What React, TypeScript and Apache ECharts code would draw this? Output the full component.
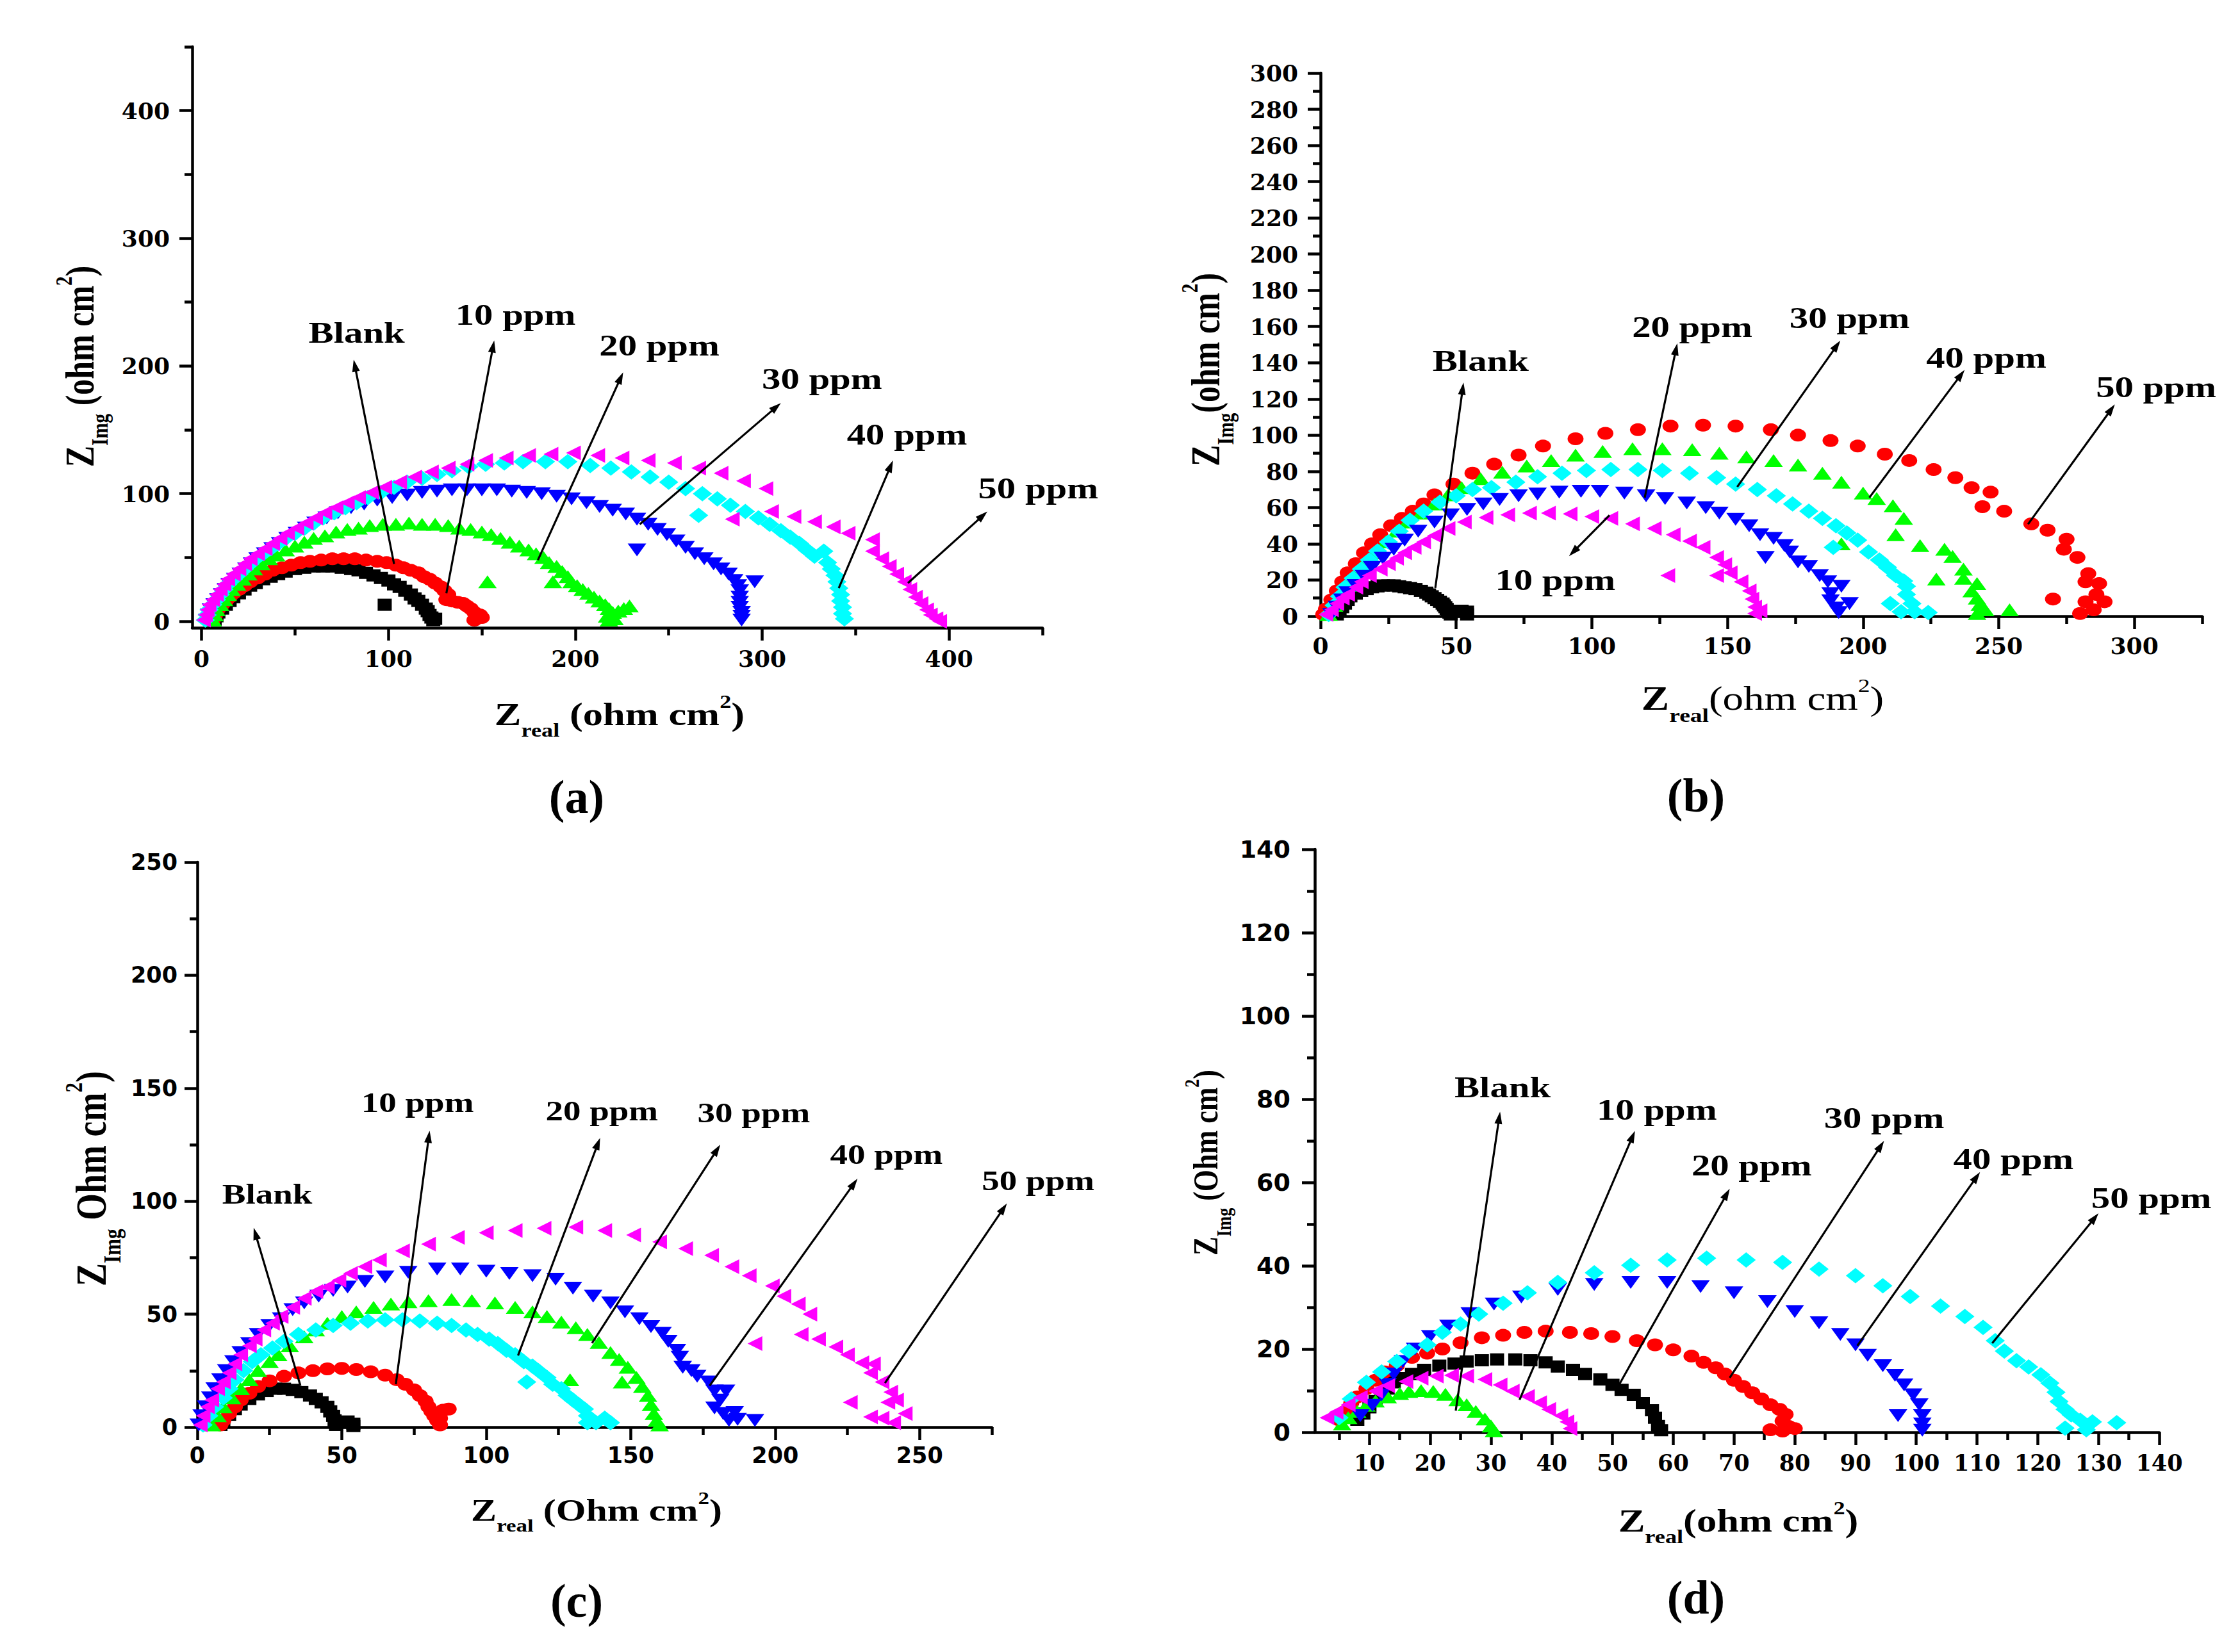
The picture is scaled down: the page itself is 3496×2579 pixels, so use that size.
import React, { useEffect, useRef } from "react";
import * as echarts from "echarts";

const W = 3496;
const H = 2579;

// ---------------- Panel (a) data ----------------
const A_BLACK = [[7,1],[8,4],[9,7],[11,10],[13,13],[15,16],[17,19],[20,22],[23,25],[26,28],[29,30],[33,33],[37,35],[41,37],[45,39],[50,41],[55,42],[60,43],[65,43],[70,43],[75,42],[80,41],[84,40],[88,38],[92,36],[96,34],[100,32],[103,29],[106,27],[109,24],[112,21],[114,18],[116,16],[118,13],[120,10],[121,8],[122,5],[123,3],[124,1],[125,2],[98,13]];
const A_RED = [[6,1],[7,4],[8,7],[9,10],[11,13],[13,16],[15,19],[17,22],[20,25],[23,28],[26,31],[30,34],[34,37],[38,40],[43,42],[48,44],[53,46],[58,47],[64,48],[70,49],[76,49],[82,49],[88,48],[94,47],[99,46],[104,44],[108,42],[112,40],[116,38],[119,35],[122,33],[125,30],[128,27],[130,24],[132,21],[131,17],[134,16],[137,15],[140,14],[142,12],[144,10],[146,7],[147,4],[146,1],[149,5],[150,3]];
const A_GREEN = [[6,1],[7,5],[8,9],[10,13],[12,17],[14,21],[16,25],[19,29],[22,33],[25,37],[28,41],[32,45],[36,49],[40,52],[45,56],[50,59],[55,62],[60,65],[66,67],[72,70],[78,72],[84,73],[90,75],[97,76],[104,76],[111,77],[118,76],[125,76],[132,75],[138,73],[144,72],[150,70],[155,68],[160,65],[165,62],[170,59],[175,56],[179,53],[183,50],[186,46],[190,43],[193,39],[196,35],[198,31],[201,28],[204,25],[207,22],[210,19],[213,16],[216,13],[218,10],[220,7],[223,8],[226,10],[229,12],[217,4],[218,1],[221,2],[153,31],[188,31]];
const A_BLUE = [[3,1],[4,5],[5,9],[7,13],[9,17],[11,21],[13,25],[15,29],[18,33],[21,37],[24,41],[27,45],[30,49],[34,53],[38,57],[42,61],[46,65],[51,69],[56,73],[61,77],[67,81],[73,85],[80,89],[87,92],[94,95],[102,97],[110,99],[118,101],[126,102],[134,103],[142,103],[150,103],[158,103],[166,102],[174,101],[182,100],[190,98],[198,96],[206,93],[213,90],[220,87],[227,84],[233,80],[239,76],[244,72],[249,68],[254,63],[259,58],[264,53],[269,49],[274,45],[278,41],[282,37],[285,32],[287,28],[288,24],[288,19],[288,15],[288,11],[289,7],[289,4],[289,1],[233,56],[296,31]];
const A_CYAN = [[2,1],[3,5],[4,9],[6,13],[8,17],[10,21],[12,25],[14,29],[17,33],[20,37],[23,41],[26,45],[29,49],[33,53],[37,57],[41,61],[45,65],[50,69],[55,73],[60,77],[65,81],[71,85],[77,89],[83,93],[89,97],[96,101],[103,105],[110,109],[118,112],[126,115],[134,118],[143,121],[152,123],[162,124],[172,125],[184,125],[196,125],[208,122],[219,120],[230,117],[240,113],[250,109],[259,104],[268,100],[276,96],[283,91],[291,86],[298,81],[304,76],[310,71],[315,66],[320,61],[324,56],[328,51],[333,55],[335,46],[337,41],[339,36],[340,31],[341,26],[342,21],[342,16],[343,11],[343,6],[344,2],[266,83]];
const A_MAGENTA = [[1,1],[2,5],[3,9],[4,13],[6,17],[8,21],[10,25],[12,29],[14,33],[17,37],[20,41],[23,45],[26,49],[30,53],[34,57],[38,61],[42,65],[46,69],[51,73],[56,77],[61,81],[66,85],[72,89],[78,93],[84,97],[91,101],[98,105],[106,109],[114,113],[123,117],[132,120],[142,123],[152,126],[163,128],[175,130],[187,131],[199,132],[212,130],[225,128],[239,126],[253,124],[266,120],[278,116],[290,110],[302,104],[305,86],[317,82],[328,78],[338,74],[346,69],[359,64],[359,55],[364,49],[368,43],[372,37],[376,31],[379,25],[382,19],[385,14],[388,9],[390,5],[393,2],[395,0],[284,80]];
const A_X_MAJOR = [0, 100, 200, 300, 400];
const A_X_MINOR = [50, 150, 250, 350, 450];
const A_Y_MAJOR = [0, 100, 200, 300, 400];
const A_Y_MINOR = [50, 150, 250, 350, 450];
const A_NOTE_TEXT = ["Blank", "10 ppm", "20 ppm", "30 ppm", "40 ppm", "50 ppm"];
const A_NOTE_TAIL = [[103,45],[131,22],[180,48],[234.5,76],[341,26],[378,30]];
const A_NOTE_HEAD = [[81.4,205],[156.6,220],[225.6,195],[310,171],[370,126],[420.5,86]];
const A_NOTE_LABEL = [[83,226],[168,240],[245,216],[332,190],[377.5,146],[447.7,104]];

// ---------------- Panel (b) data ----------------
const B_BLACK = [[6,1],[7,3],[8,5],[9,7],[10,9],[11,11],[13,12.5],[15,14],[17,15],[19,16],[21,16.5],[23,17],[25,17],[27,17],[29,16.5],[31,16],[33,15.5],[35,15],[37,14],[39,13],[40,12],[41,11],[42,10],[43,9],[44,8],[45,7],[45.5,6],[46,5],[46.5,4],[47,3],[47.5,2],[48,1],[50,2.5],[52,3],[54,2.5],[54,1]];
const B_RED = [[1,1],[2,4],[4,9],[6,14],[8,19],[10,24],[13,29],[16,35],[19,40],[22,45],[26,50],[30,54],[34,58],[38,62],[42,67],[49,73],[56,79],[64,84],[73,89],[82,94],[94,98],[105,101],[117,103],[129,105],[141,105.5],[153,105],[166,103],[176,100],[188,97],[198,94],[208,89.5],[217,86],[226,81],[234,76.5],[240,71],[247,68.5],[244,60.5],[252,58],[262,51],[268,47.5],[275,42.5],[274,37],[279,32.5],[283,23.5],[282,19],[287,18],[286,12],[282,8],[289,8],[285,3.5],[280,1.5],[270,9.5]];
const B_GREEN = [[3,1],[5,6],[7,11],[10,17],[13,23],[16,29],[20,35],[24,41],[28,47],[32,52],[37,57],[42,62],[47,67],[52,71],[59,76],[67,79.5],[76,83],[85,86],[94,89],[104,91],[115,92.5],[126,92.5],[137,92],[147,90],[157,88],[167,86],[176,83.5],[185,79],[192,74],[200,68],[205,65],[211,61],[215,54],[212,45],[221,39],[230,37],[233,33],[237,26],[237,21],[242,18],[240,14],[242,10],[243,6.5],[245,3.5],[242,1.5],[254,3.5],[192,40],[227,20.5]];
const B_CYAN = [[3,1],[5,6],[7,11],[9,16],[12,21],[15,26],[18,31],[21,36],[25,41],[29,47],[33,53],[38,58],[44,63],[50,66.5],[56,70],[63,71],[72,74],[80,77],[89,79],[98,80.5],[107,81],[117,81],[126,80.5],[136,79],[146,76.5],[153,73],[161,70],[168,66.5],[174,62],[180,58],[185,54],[190,50],[194,46],[198,42],[202,35.5],[206,31],[209,27],[212,22.5],[215,19.5],[216,16.5],[216,12],[218,7],[219,2.5],[224,2],[214,2.5],[189,38],[210,7]];
const B_BLUE = [[4,1],[6,5],[8,9],[10,13],[13,17],[16,22],[19,27],[23,32],[27,37],[31,42],[36,47],[42,52],[48,56],[54,59],[60,62],[66,64.5],[73,66.5],[80,67.5],[88,68.5],[96,69],[103,69],[112,68],[120,66.5],[127,65],[135,62.5],[142,60],[147,57],[153,53.5],[158,50],[162,45],[167,43],[171,39],[173,35.5],[176,30],[180,27.5],[184,22.5],[187,19],[192,16.5],[188,12.5],[188,8.5],[190,4.5],[191,2],[195,7],[164,32.5]];
const B_MAGENTA = [[2,1],[4,3.5],[6,7],[8,10],[10,12],[13,16],[15,19],[18,22.5],[22,26],[25,29],[28,32],[31,35],[34.5,38],[38,41],[42,44.5],[47,48.5],[53,52],[61,54.5],[69,56],[77,57],[84,57],[92,56.5],[100,55],[107,54],[115,51],[123,48.5],[130,45],[136,41.5],[141,38],[146,32.5],[149,28.5],[151,24],[155,19],[158,14],[159,9.5],[160,5],[160,1.5],[162,3],[128,22.5],[146,22.5]];
const B_X_MAJOR = [0, 50, 100, 150, 200, 250, 300];
const B_X_MINOR = [25, 75, 125, 175, 225, 275, 325];
const B_Y_MAJOR = [0, 20, 40, 60, 80, 100, 120, 140, 160, 180, 200, 220, 240, 260, 280, 300];
const B_Y_MINOR = [10, 30, 50, 70, 90, 110, 130, 150, 170, 190, 210, 230, 250, 270, 290];
const B_NOTE_TEXT = ["Blank", "20 ppm", "30 ppm", "40 ppm", "50 ppm", "10 ppm"];
const B_NOTE_TAIL = [[42.3,15.6],[119.5,65.5],[153.6,71.4],[202.3,65.5],[260.8,50.8],[106.5,55.8]];
const B_NOTE_HEAD = [[52.7,129],[131.5,150.7],[191.6,152.2],[237.4,136],[292.8,117],[91.6,33.2]];
const B_NOTE_LABEL = [[59,141],[137,159.6],[195,164.6],[245.4,142.8],[308,126.4],[86.5,20]];

// ---------------- Panel (c) data ----------------
const C_BLACK = [[8,1],[9,3],[11,5.5],[13,8],[15,10],[18,12.5],[21,14.5],[24,16],[27,17],[30,17],[33,16.5],[36,15.5],[39,14],[41,12.5],[43,11],[45,9],[46,7],[47,5],[47.5,3],[48,1],[50,2],[52,2.5],[54,1.5],[54,0.5]];
const C_RED = [[8,1],[9,3],[11,6],[13,9],[15,12],[18,15],[21,18],[25,20.5],[30,22.5],[35,24],[40,25],[45,25.8],[50,26],[55,25.5],[60,24.5],[65,23],[69,21],[72,19],[75,16.5],[77,14],[79,11.5],[80,9],[81,7],[82,5],[83,3],[84,1],[85,7.5],[87,8],[84,4]];
const C_GREEN = [[5,1],[7,5],[9,9],[12,13],[15,17],[18,21],[21,25],[25,29],[28,32],[32,36],[37,40],[41,43],[45,46],[50,49],[55,51],[61,53],[67,54.5],[73,55.5],[80,56],[88,56.5],[95,56],[103,55],[110,53],[116,51],[121,49],[126,46.5],[131,44],[135,41],[139,37.5],[143,33],[146,30],[149,26.5],[152,22],[154,18],[156,14],[157,10],[158,6],[159,3],[160,1],[129,21],[147,20]];
const C_CYAN = [[2,1],[4,5],[6,9],[9,13],[11,17],[13,21],[16,25],[19,29],[22,32],[26,35],[30,38],[35,41],[41,43],[47,45],[53,46],[59,47],[65,47.5],[71,47.5],[77,47],[83,46],[88,45],[93,43],[97,41],[101,39],[104,37],[107,34],[110,32],[113,29],[116,27],[118,25],[121,22],[123,19],[126,17],[128,14],[130,12],[132,10],[134,8],[135,5],[135,2],[138,2],[141,4],[143,2],[114,20]];
const C_BLUE = [[0.5,1],[1.5,5],[3,9],[4.5,13],[6,17],[8,21],[10,25],[12.5,29],[15,33],[18,37],[21,41],[25,45],[29,48],[33,52],[37,55],[42,58],[47,60.5],[52,62],[58,64.5],[65,66.5],[73,68.5],[83,70],[91,70],[100,69],[108,68],[116,67],[124,65.5],[130,61.5],[137,58],[143,55],[148,51],[153,48],[157,44.5],[161,41.5],[163,38],[166,34],[167,31],[168,26.5],[171,25],[173,22.5],[177,20],[179,16],[183,16],[181,12],[179,8.5],[182,6],[186,6.5],[184,3],[187,3.5],[193,3]];
const C_MAGENTA = [[1,1],[2,5],[3.5,9],[5,12],[7,17],[9,20],[11,24],[13,28],[15,32],[18,36],[20,39],[23,43],[26,46],[29,49],[33,53],[37,57],[41,60],[45,62],[49,65],[53,68],[58,71],[63,74],[71,78],[80,81],[90,84],[100,86],[110,87],[120,88],[131,88.5],[141,87],[151,85],[160,82],[169,79],[178,76],[185,71],[191,67],[199,62.5],[203,58],[208,54.5],[212,50],[209,41],[215,39],[221,35.5],[225,32],[230,28.5],[234,28],[233,24],[237,20],[240,15.5],[242,12],[239,11],[226,11],[233,4.5],[237,4],[241,2],[245,6],[193,37]];
const C_X_MAJOR = [0, 50, 100, 150, 200, 250];
const C_X_MINOR = [25, 75, 125, 175, 225, 275];
const C_Y_MAJOR = [0, 50, 100, 150, 200, 250];
const C_Y_MINOR = [25, 75, 125, 175, 225];
const C_NOTE_TEXT = ["Blank", "10 ppm", "20 ppm", "30 ppm", "40 ppm", "50 ppm"];
const C_NOTE_TAIL = [[35.7,18.3],[68.7,19],[111,31.7],[136.6,37.2],[177.3,18.3],[238,19.5]];
const C_NOTE_HEAD = [[19.5,88.2],[80.4,131.2],[139.4,128],[181,125],[228.5,110],[280.2,99]];
const C_NOTE_LABEL = [[24.2,103],[76.2,143.5],[140,140],[192.6,139],[238.5,120.6],[291,109]];

// ---------------- Panel (d) data ----------------
const D_BLACK = [[8,3],[9,4.5],[10,6],[11,7.5],[12,9],[13,10.5],[14,12],[15.5,13],[17,14],[19,15],[21.5,16],[24,16.5],[26,17],[28.5,17.3],[31,17.5],[34,17.5],[36.5,17.3],[39,16.8],[41,15.8],[43.5,15],[45.5,14],[48,12.7],[50,11.4],[51.5,10.2],[53.5,9],[55,7],[56.5,5.3],[57,3.5],[57.5,1.5],[58,0.5]];
const D_RED = [[5,3],[6,5],[7,7],[8,8.5],[9.5,10.5],[11,12.5],[12.5,14.5],[14.5,16],[17,18],[19.5,19],[22,20],[25,21.5],[28.5,22.7],[32,23.3],[35.5,24],[39,24.3],[43,24],[46.5,23.7],[50,23],[54,22],[57,21],[60,19.8],[63,18.3],[65,16.8],[67,15.5],[68.5,14],[70,12.5],[71.5,11],[73,9.5],[74.5,8],[76,6.6],[77.5,5.5],[78.5,4.3],[78,2.7],[79,1.4],[80,0.9],[76,0.6],[78,0.3]];
const D_GREEN = [[5.5,2],[6.5,3.5],[8,5],[9.5,6.5],[11,7.5],[13,8.5],[15,9.3],[16.5,9.8],[18.5,10],[20.5,9.8],[22.5,9.1],[24.5,7.8],[26,6.6],[27.5,5],[29,3.2],[30,1.5],[30.5,0.4]];
const D_BLUE = [[8.5,4],[10.5,6.5],[12,9],[13,11.5],[14,14],[15.5,17],[17.5,20],[20,23],[23,25.5],[26.5,28.5],[30.5,30.8],[35,32.5],[41,34.3],[47,35.5],[53,36],[59,36],[64.5,35],[70,33.5],[75.5,31.4],[80,29],[84,26.3],[87.5,23.5],[90,21],[92,18.5],[94.5,16],[96.5,13.7],[98,11.4],[99.5,9],[100.5,6.6],[101,4],[101,2],[101,0.5],[97,4]];
const D_CYAN = [[5,3.5],[7,8],[9.5,12],[12,14.5],[14.5,17],[16.5,19.5],[19.5,21],[22,24],[25,26],[28,28.4],[32,31],[36,33.5],[41,36],[47,38.3],[53,40.1],[59,41.4],[65.5,41.8],[72,41.4],[78,40.8],[84,39.2],[90,37.6],[94.5,35.2],[99,32.6],[104,30.3],[108,27.8],[111,25.2],[113,22],[114.5,19.5],[116.5,17.2],[118.5,15.7],[120.5,13.8],[122,11.8],[123,9.6],[123.5,7.4],[124.5,5.5],[125.5,4.2],[127,2.9],[129,2.5],[133,2.3],[124.5,1],[128,0.6]];
const D_MAGENTA = [[3,3.5],[4.5,4.8],[6.5,6.6],[8.5,8.4],[11,9.9],[13,11.2],[16,12.2],[18.5,13],[21,13.5],[23.5,13.7],[26,13.5],[29,12.7],[31.5,11.4],[33.5,9.9],[36,8.6],[38,7.1],[39.5,5.5],[41.5,4],[42.5,2.5],[43,0.9]];
const D_X_MAJOR = [10, 20, 30, 40, 50, 60, 70, 80, 90, 100, 110, 120, 130, 140];
const D_X_MINOR = [5, 15, 25, 35, 45, 55, 65, 75, 85, 95, 105, 115, 125, 135];
const D_Y_MAJOR = [0, 20, 40, 60, 80, 100, 120, 140];
const D_Y_MINOR = [10, 30, 50, 70, 90, 110, 130];
const D_NOTE_TEXT = ["Blank", "10 ppm", "20 ppm", "30 ppm", "40 ppm", "50 ppm"];
const D_NOTE_TAIL = [[24.2,5.2],[34.7,7.8],[51,11.2],[69.3,13.1],[90.3,20.8],[112.5,21.4]];
const D_NOTE_HEAD = [[31.5,77],[53.7,72.4],[69.3,58.5],[94.7,70],[110.5,62.5],[130,52.6]];
const D_NOTE_LABEL = [[31.9,82.8],[57.3,77.5],[72.9,64],[94.7,75.5],[116,65.6],[138.7,56.2]];

// ---------------- styling ----------------
const SERIF = '"Liberation Serif", "Times New Roman", serif';
const DSERIF = '"DejaVu Serif", serif';
const DSANS = '"DejaVu Sans", sans-serif';

const BLACK = "#000000";
const RED = "#ff0000";
const GREEN = "#00ff00";
const BLUE = "#0000ff";
const CYAN = "#00ffff";
const MAGENTA = "#ff00ff";

const SQUARE = { symbol: "rect", size: [22, 19], rotate: 0 };
const CIRCLE = { symbol: "circle", size: [25, 20], rotate: 0 };
const UP = { symbol: "triangle", size: [29, 20], rotate: 0 };
const DOWN = { symbol: "triangle", size: [29, 20], rotate: 180 };
const LEFT = { symbol: "triangle", size: [23, 23], rotate: 90 };
const DIAMOND = { symbol: "diamond", size: [30, 24], rotate: 0 };

const PANELS = [
  {
    grid: { left: 300, top: 73, width: 1327, height: 907 },
    x: { min: -5, max: 450, majors: A_X_MAJOR, minors: A_X_MINOR, font: DSERIF, size: 36, margin: 30 },
    y: { min: -5, max: 450, majors: A_Y_MAJOR, minors: A_Y_MINOR, font: DSERIF, size: 36, margin: 35 },
    series: [
      { data: A_BLACK, color: BLACK, m: SQUARE },
      { data: A_RED, color: RED, m: CIRCLE },
      { data: A_GREEN, color: GREEN, m: UP },
      { data: A_BLUE, color: BLUE, m: DOWN },
      { data: A_CYAN, color: CYAN, m: DIAMOND },
      { data: A_MAGENTA, color: MAGENTA, m: LEFT },
    ],
    notes: { text: A_NOTE_TEXT, tail: A_NOTE_TAIL, head: A_NOTE_HEAD, label: A_NOTE_LABEL, size: 47 },
  },
  {
    grid: { left: 2061, top: 114, width: 1376, height: 848 },
    x: { min: 0, max: 325, majors: B_X_MAJOR, minors: B_X_MINOR, font: DSERIF, size: 36, margin: 28 },
    y: { min: 0, max: 300, majors: B_Y_MAJOR, minors: B_Y_MINOR, font: DSERIF, size: 36, margin: 35 },
    series: [
      { data: B_BLACK, color: BLACK, m: SQUARE },
      { data: B_RED, color: RED, m: CIRCLE },
      { data: B_GREEN, color: GREEN, m: UP },
      { data: B_CYAN, color: CYAN, m: DIAMOND },
      { data: B_BLUE, color: BLUE, m: DOWN },
      { data: B_MAGENTA, color: MAGENTA, m: LEFT },
    ],
    notes: { text: B_NOTE_TEXT, tail: B_NOTE_TAIL, head: B_NOTE_HEAD, label: B_NOTE_LABEL, size: 47 },
  },
  {
    grid: { left: 308, top: 1346, width: 1240, height: 882 },
    x: { min: 0, max: 275, majors: C_X_MAJOR, minors: C_X_MINOR, font: DSANS, size: 35, margin: 26 },
    y: { min: 0, max: 250, majors: C_Y_MAJOR, minors: C_Y_MINOR, font: DSANS, size: 35, margin: 31 },
    series: [
      { data: C_BLACK, color: BLACK, m: SQUARE },
      { data: C_RED, color: RED, m: CIRCLE },
      { data: C_GREEN, color: GREEN, m: UP },
      { data: C_CYAN, color: CYAN, m: DIAMOND },
      { data: C_BLUE, color: BLUE, m: DOWN },
      { data: C_MAGENTA, color: MAGENTA, m: LEFT },
    ],
    notes: { text: C_NOTE_TEXT, tail: C_NOTE_TAIL, head: C_NOTE_HEAD, label: C_NOTE_LABEL, size: 44 },
  },
  {
    grid: { left: 2052, top: 1326, width: 1318, height: 910 },
    x: { min: 1, max: 140, majors: D_X_MAJOR, minors: D_X_MINOR, font: DSERIF, size: 35, margin: 30 },
    y: { min: 0, max: 140, majors: D_Y_MAJOR, minors: D_Y_MINOR, font: DSANS, size: 38, margin: 38 },
    series: [
      { data: D_BLACK, color: BLACK, m: SQUARE },
      { data: D_RED, color: RED, m: CIRCLE },
      { data: D_GREEN, color: GREEN, m: UP },
      { data: D_BLUE, color: BLUE, m: DOWN },
      { data: D_CYAN, color: CYAN, m: DIAMOND },
      { data: D_MAGENTA, color: MAGENTA, m: LEFT },
    ],
    notes: { text: D_NOTE_TEXT, tail: D_NOTE_TAIL, head: D_NOTE_HEAD, label: D_NOTE_LABEL, size: 47 },
  },
];

const TITLES = [
  { text: "{z|Z}{sub|real}{m| (ohm cm}{sup|2}{m|)}", x: 967, y: 1115, vertical: false, fs: 50, bold: true },
  { text: "{z|Z}{sub|Img}{m| (ohm cm}{sup|2}{m|)}", x: 125, y: 572, vertical: true, fs: 50, bold: true },
  { text: "{z|Z}{sub|real}{m|(ohm cm}{sup|2}{m|)}", x: 2751, y: 1091, vertical: false, fs: 52, bold: false },
  { text: "{z|Z}{sub|Img}{m|(ohm cm}{sup|2}{m|)}", x: 1882, y: 577, vertical: true, fs: 50, bold: true },
  { text: "{z|Z}{sub|real}{m| (Ohm cm}{sup|2}{m|)}", x: 931, y: 2358, vertical: false, fs: 48, bold: true },
  { text: "{z|Z}{sub|Img}{m| Ohm cm}{sup|2}{m|)}", x: 142, y: 1840, vertical: true, fs: 54, bold: true },
  { text: "{z|Z}{sub|real}{m|(ohm cm}{sup|2}{m|)}", x: 2713, y: 2374, vertical: false, fs: 50, bold: true },
  { text: "{z|Z}{sub|Img}{m| (Ohm cm}{sup|2}{m|)}", x: 1882, y: 1815, vertical: true, fs: 44, bold: true },
];

const PANEL_TAGS = [
  { text: "(a)", x: 900, y: 1244 },
  { text: "(b)", x: 2647, y: 1242 },
  { text: "(c)", x: 900, y: 2499 },
  { text: "(d)", x: 2647, y: 2494 },
];

function mainAxis(cfg: any, gridIndex: number, position: string) {
  return {
    type: "value",
    gridIndex,
    position,
    min: cfg.min,
    max: cfg.max,
    axisLine: { show: true, onZero: false, lineStyle: { color: "#000", width: 4.5 } },
    axisTick: { show: true, inside: false, length: 20, lineStyle: { color: "#000", width: 4.5 }, customValues: cfg.majors },
    axisLabel: {
      show: true,
      inside: false,
      margin: cfg.margin,
      customValues: cfg.majors,
      color: "#000",
      fontFamily: cfg.font,
      fontWeight: "bold",
      fontSize: cfg.size,
      hideOverlap: false,
    },
    splitLine: { show: false },
    minorTick: { show: false },
    minorSplitLine: { show: false },
  };
}

function minorAxis(cfg: any, gridIndex: number, position: string) {
  return {
    type: "value",
    gridIndex,
    position,
    min: cfg.min,
    max: cfg.max,
    axisLine: { show: false, onZero: false },
    axisTick: { show: true, inside: false, length: 12, lineStyle: { color: "#000", width: 4.5 }, customValues: cfg.minors },
    axisLabel: { show: false },
    splitLine: { show: false },
  };
}

function noteSeries(i: number, notes: any) {
  const data = notes.text.map((_: string, k: number) => [
    notes.tail[k][0], notes.tail[k][1], notes.head[k][0], notes.head[k][1], notes.label[k][0], notes.label[k][1],
  ]);
  const font = `bold ${notes.size}px "Liberation Serif"`;
  return {
    type: "custom",
    xAxisIndex: 2 * i,
    yAxisIndex: 2 * i,
    silent: true,
    clip: false,
    z: 5,
    data,
    renderItem: (params: any, api: any) => {
      const k = params.dataIndex;
      const p0 = api.coord([api.value(0), api.value(1)]);
      const p1 = api.coord([api.value(2), api.value(3)]);
      const pl = api.coord([api.value(4), api.value(5)]);
      const dx = p1[0] - p0[0];
      const dy = p1[1] - p0[1];
      const len = Math.hypot(dx, dy) || 1;
      const ux = dx / len;
      const uy = dy / len;
      const hl = 19;
      const hw = 6;
      const bx = p1[0] - ux * hl;
      const by = p1[1] - uy * hl;
      return {
        type: "group",
        children: [
          { type: "line", shape: { x1: p0[0], y1: p0[1], x2: bx + ux * 3, y2: by + uy * 3 }, style: { stroke: "#000", lineWidth: 3.2 } },
          {
            type: "polygon",
            shape: { points: [[p1[0], p1[1]], [bx - uy * hw, by + ux * hw], [bx + uy * hw, by - ux * hw]] },
            style: { fill: "#000" },
          },
          {
            type: "text",
            x: pl[0],
            y: pl[1],
            scaleX: 1.25,
            style: {
              text: notes.text[k],
              fill: "#000",
              font,
              align: "center",
              verticalAlign: "middle",
              textAlign: "center",
              textVerticalAlign: "middle",
            },
          },
        ],
      };
    },
  };
}

function richStyles(fs: number, bold: boolean) {
  const base = { fontFamily: SERIF, fill: "#000", textFill: "#000" };
  const lh = Math.round(fs * 1.1);
  const small = Math.round(fs * 0.58);
  return {
    z: { ...base, fontWeight: "bold", fontSize: fs, lineHeight: lh },
    m: { ...base, fontWeight: bold ? "bold" : "normal", fontSize: fs, lineHeight: lh },
    sub: { ...base, fontWeight: "bold", fontSize: small, lineHeight: Math.round(fs * 0.6), padding: [Math.round(fs), 0, 0, 0] },
    sup: { ...base, fontWeight: bold ? "bold" : "normal", fontSize: small, lineHeight: Math.round(fs * 0.6), padding: [0, 0, Math.round(fs * 0.8), 0] },
  };
}

function buildGraphic() {
  const els: any[] = [];
  TITLES.forEach((t) => {
    els.push({
      type: "text",
      x: t.x,
      y: t.y,
      rotation: t.vertical ? Math.PI / 2 : 0,
      scaleX: t.vertical ? 1 : 1.25,
      scaleY: t.vertical ? 1.25 : 1,
      silent: true,
      z: 10,
      style: {
        text: t.text,
        rich: richStyles(t.fs, t.bold),
        fill: "#000",
        align: "center",
        verticalAlign: "middle",
        textAlign: "center",
        textVerticalAlign: "middle",
      },
    });
  });
  PANEL_TAGS.forEach((t) => {
    els.push({
      type: "text",
      x: t.x,
      y: t.y,
      silent: true,
      z: 10,
      style: {
        text: t.text,
        fill: "#000",
        font: 'bold 74px "Liberation Serif"',
        align: "center",
        verticalAlign: "middle",
        textAlign: "center",
        textVerticalAlign: "middle",
      },
    });
  });
  return els;
}

function buildOption() {
  const grid: any[] = [];
  const xAxis: any[] = [];
  const yAxis: any[] = [];
  const series: any[] = [];
  PANELS.forEach((p, i) => {
    grid.push({ ...p.grid, containLabel: false, outerBoundsMode: "none", show: false });
    xAxis.push(mainAxis(p.x, i, "bottom"), minorAxis(p.x, i, "bottom"));
    yAxis.push(mainAxis(p.y, i, "left"), minorAxis(p.y, i, "left"));
    p.series.forEach((s) => {
      series.push({
        type: "scatter",
        xAxisIndex: 2 * i,
        yAxisIndex: 2 * i,
        data: s.data,
        symbol: s.m.symbol,
        symbolSize: s.m.size,
        symbolRotate: s.m.rotate,
        itemStyle: { color: s.color, opacity: 1 },
        silent: true,
        z: 2,
      });
    });
    series.push(noteSeries(i, p.notes));
  });
  return {
    animation: false,
    backgroundColor: "#ffffff",
    grid,
    xAxis,
    yAxis,
    series,
    graphic: buildGraphic(),
  };
}

const App = () => {
  const ref = useRef<HTMLDivElement>(null);
  useEffect(() => {
    if (!ref.current) return;
    const chart = echarts.init(ref.current, null, { renderer: "svg", width: W, height: H });
    chart.setOption(buildOption() as any);
    return () => chart.dispose();
  }, []);
  return (
    <div
      ref={ref}
      style={{ position: "absolute", left: 0, top: 0, width: W, height: H, background: "#fff" }}
    />
  );
};

export default App;
